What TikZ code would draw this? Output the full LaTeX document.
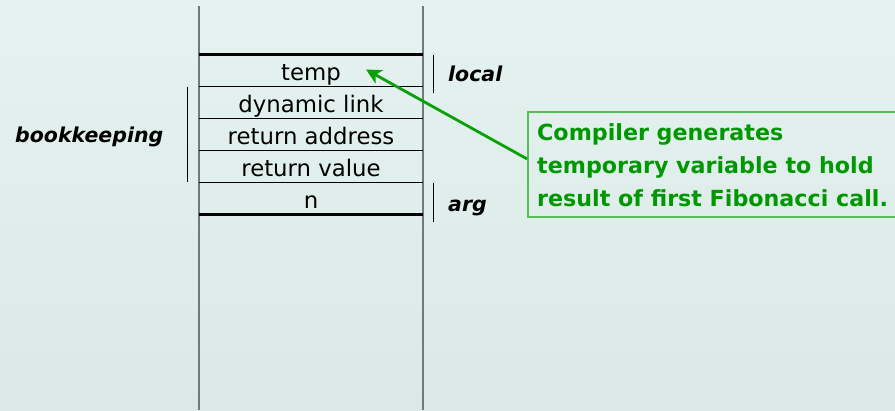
\documentclass[tikz,border=0pt]{standalone}
\usepackage{fontspec}
\setmainfont{DejaVu Sans}
\usetikzlibrary{arrows.meta}

\definecolor{bgTop}{RGB}{228,242,240}
\definecolor{bgBottom}{RGB}{218,233,230}
\definecolor{wallgray}{RGB}{112,122,120}
\definecolor{notegreen}{RGB}{0,152,0}
\definecolor{arrowgreen}{RGB}{10,160,10}
\definecolor{boxgreen}{RGB}{85,190,85}

\tikzset{
  cell/.style={anchor=base, inner sep=0pt, font=\fontsize{22.8}{26}\selectfont},
  sidelabel/.style={anchor=base west, inner sep=0pt, font=\fontsize{20.5}{24}\selectfont\bfseries\itshape},
  noteline/.style={anchor=base west, inner sep=0pt, text=notegreen, font=\fontsize{22.2}{26}\selectfont\bfseries},
  wall/.style={draw=wallgray, line width=1.6pt},
  divider/.style={draw=black, line width=0.9pt},
  framebar/.style={draw=black, line width=3pt},
  brace/.style={draw=black, line width=1pt},
  notebox/.style={draw=boxgreen, line width=1.8pt, anchor=north west, inner sep=0pt,
                  minimum width=380pt, minimum height=105pt},
  pointer/.style={draw=arrowgreen, line width=2.8pt,
                  -{Stealth[length=15pt, width=15pt, inset=4pt]}}
}

\begin{document}
\begin{tikzpicture}[x=1pt, y=-1pt]
  \useasboundingbox (0,0) rectangle (895,410);
  \shade[top color=bgTop, bottom color=bgBottom] (0,0) rectangle (895,410);

  % stack walls
  \draw[wall] (199,6) -- (199,410);
  \draw[wall] (423,6) -- (423,410);

  % activation record boundaries and slot dividers
  \draw[framebar] (199,54) -- (423,54);
  \draw[divider] (199,86.5) -- (423,86.5);
  \draw[divider] (199,118.5) -- (423,118.5);
  \draw[divider] (199,150.5) -- (423,150.5);
  \draw[divider] (199,182.5) -- (423,182.5);
  \draw[framebar] (199,214) -- (423,214);

  % slot contents
  \node[cell] (temp) at (311,80.5) {temp};
  \node[cell] (dlink) at (311,112.5) {dynamic link};
  \node[cell] (raddr) at (311,144.5) {return address};
  \node[cell] (rval) at (311,176.5) {return value};
  \node[cell] (narg) at (311,208.5) {n};

  % group brackets and their labels
  \draw[brace] (187,87) -- (187,182);
  \draw[brace] (433,55) -- (433,93);
  \draw[brace] (433,183) -- (433,222);
  \node[sidelabel] (book) at (15,142) {bookkeeping};
  \node[sidelabel] (local) at (448,81.5) {local};
  \node[sidelabel] (arg) at (448,211.5) {arg};

  % explanatory note
  \node[notebox] (note) at (527,111) {};
  \node[noteline] (noteA) at (537,140.7) {Compiler generates};
  \node[noteline] (noteB) at (537,173.5) {temporary variable to hold};
  \node[noteline] (noteC) at (537,206) {result of first Fibonacci call.};

  \coordinate (tip) at (366,69.5);
  \draw[pointer] ([yshift=5.5pt]note.west) -- (tip);
\end{tikzpicture}
\end{document}
